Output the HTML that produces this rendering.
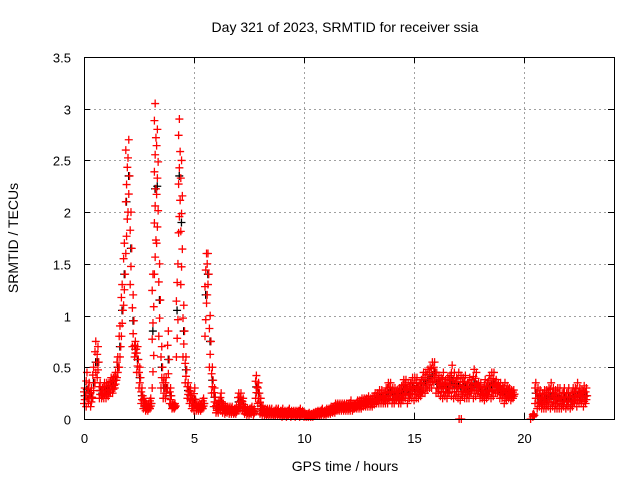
<!DOCTYPE html>
<html><head><meta charset="utf-8"><style>
body{margin:0;background:#fff}
svg{display:block;font-family:"Liberation Sans",sans-serif}
</style></head><body>
<svg id="chart" width="640" height="480" viewBox="0 0 640 480">
<rect width="640" height="480" fill="#fff"/>
<text x="345" y="32" font-size="14" text-anchor="middle">Day 321 of 2023, SRMTID for receiver ssia</text>
<text x="345" y="471" font-size="14" text-anchor="middle">GPS time / hours</text>
<text x="0" y="0" font-size="14" text-anchor="middle" transform="translate(18,238) rotate(-90)">SRMTID / TECUs</text>
<g id="grid"></g>
<g id="ticks"></g>
<g id="marks"></g>
<rect x="84.5" y="57.5" width="530" height="362" fill="none" stroke="#000" stroke-width="1"/>
</svg>
<script>
const xTicks=[0,5,10,15,20];
const yTicks=[0,0.5,1,1.5,2,2.5,3,3.5];
const yTickLabels=["0","0.5","1","1.5","2","2.5","3","3.5"];
const t0=0, dt=0.1;
const lo=[.15,.12,.15,.12,.2,.35,.4,.2,.2,.2,
.2,.22,.25,.25,.3,.4,.5,.8,1.1,1.6,
2.0,1.3,.7,.6,.45,.3,.15,.1,.08,.08,
.1,.3,1.4,1.7,.8,.3,.2,.2,.3,.15,
.1,.1,.6,1.8,1.3,.6,.35,.2,.15,.1,
.08,.08,.08,.08,.1,.8,1.2,.5,.25,.12,
.06,.06,.08,.06,.05,.06,.05,.05,.05,.05,
.08,.1,.08,.05,.04,.04,.05,.04,.2,.15,
.05,.04,.03,.03,.03,.03,.03,.03,.03,.03,
.02,.03,.02,.03,.02,.03,.02,.03,.02,.03,
.02,.02,.02,.02,.02,.03,.03,.03,.04,.04,
.04,.05,.05,.06,.06,.08,.08,.08,.08,.08,
.08,.08,.08,.1,.1,.1,.1,.12,.12,.12,
.12,.12,.14,.15,.15,.15,.15,.15,.15,.18,
.15,.15,.18,.15,.15,.18,.2,.15,.2,.2,
.18,.2,.2,.22,.25,.25,.28,.3,.3,.35,
.25,.25,.22,.2,.22,.2,.25,.22,.2,.22,
.2,.18,.22,.2,.2,.2,.25,.2,.22,.25,
.2,.2,.18,.2,.22,.2,.22,.25,.25,.2,
.2,.15,.18,.2,.18,.2,null,null,null,null,
null,null,null,null,.02,.15,.1,.12,.1,.1,
.1,.12,.1,.12,.1,.1,.1,.1,.12,.1,
.12,.1,.12,.15,.12,.15,.15,.12,.15];
const hi=[.3,.45,.35,.3,.5,.75,.7,.35,.3,.35,
.35,.35,.4,.4,.45,.6,.9,1.3,1.7,2.6,
2.7,2.0,1.2,.75,.7,.5,.3,.2,.15,.15,
.2,1.4,3.05,2.8,1.5,.7,.4,.4,.85,.3,
.15,.15,1.5,2.9,2.5,1.1,.6,.35,.3,.2,
.3,.15,.15,.15,.2,1.6,1.6,1.0,.5,.3,
.15,.18,.25,.15,.12,.12,.12,.12,.1,.12,
.25,.25,.2,.12,.1,.1,.12,.1,.42,.35,
.2,.12,.1,.1,.1,.1,.08,.1,.1,.08,
.1,.08,.08,.1,.08,.08,.08,.08,.1,.08,
.06,.05,.06,.05,.06,.07,.08,.08,.1,.08,
.1,.1,.12,.12,.15,.15,.15,.15,.15,.15,
.15,.18,.15,.15,.18,.18,.2,.2,.2,.22,
.2,.22,.25,.25,.28,.28,.25,.3,.35,.35,
.3,.3,.28,.3,.32,.38,.38,.35,.35,.4,
.4,.4,.35,.38,.45,.45,.48,.5,.55,.55,
.45,.42,.4,.45,.38,.4,.42,.52,.45,.4,
.45,.42,.4,.42,.35,.4,.38,.48,.45,.35,
.35,.3,.38,.35,.42,.45,.45,.38,.35,.35,
.32,.35,.32,.3,.28,.28,null,null,null,null,
null,null,null,null,.05,.35,.3,.28,.25,.28,
.28,.3,.35,.3,.28,.3,.3,.25,.3,.25,
.3,.25,.3,.3,.35,.3,.28,.32,.3];
const outT=[17.05,17.15,20.3];
const outV=[0,0,0];

const X0=84,X1=614,Y0=419,Y1=57,XMAX=24.09,YMAX=3.5;
const sx=v=>X0+v/XMAX*(X1-X0);
const sy=v=>Y0-v/YMAX*(Y0-Y1);
const NS="http://www.w3.org/2000/svg";
const grid=document.getElementById('grid'),ticks=document.getElementById('ticks'),marks=document.getElementById('marks');
function mk(tag,attrs,parent){const e=document.createElementNS(NS,tag);for(const k in attrs)e.setAttribute(k,attrs[k]);parent.appendChild(e);return e;}
xTicks.forEach(v=>{
  const x=Math.round(sx(v))+0.5;
  if(v>0){const g=mk('line',{x1:x,x2:x,y1:Y1,y2:Y0,stroke:'#a0a0a0','stroke-dasharray':'2,3'},grid);
  
  }
  mk('line',{x1:x,x2:x,y1:Y0,y2:Y0-6,stroke:'#000'},ticks);
  mk('line',{x1:x,x2:x,y1:Y1,y2:Y1+6,stroke:'#000'},ticks);
  const t=mk('text',{x:x,y:443,'font-size':13,'text-anchor':'middle'},ticks);
  t.textContent=v;
  
  
});
yTicks.forEach((v,i)=>{
  const y=Math.round(sy(v))+0.5;
  if(v>0&&v<YMAX){const g=mk('line',{x1:X0,x2:X1,y1:y,y2:y,stroke:'#a0a0a0','stroke-dasharray':'2,3'},grid);
  
  }
  mk('line',{x1:X0,x2:X0+6,y1:y,y2:y,stroke:'#000'},ticks);
  mk('line',{x1:X1,x2:X1-6,y1:y,y2:y,stroke:'#000'},ticks);
  const t=mk('text',{x:71,y:y+5,'font-size':13,'text-anchor':'end'},ticks);
  t.textContent=yTickLabels[i];
  
  
});
function plus(x,y,col){
  const p=mk('path',{d:`M${x-4},${y}h8M${x},${y-4}v8`,stroke:col,'stroke-width':1.3,fill:'none'},marks);
  
  
}
lo.forEach((l,i)=>{
  if(l===null||hi[i]===null)return;
  const t=t0+i*dt;
  plus(sx(t+0.03),sy((l+hi[i])/2),'#000');
});
lo.forEach((l,i)=>{
  if(l===null||hi[i]===null)return;
  const t=t0+i*dt;
  const n=Math.max(4,Math.ceil((hi[i]-l)/0.18));
  for(let k=0;k<=n;k++){const v=l+(hi[i]-l)*k/n;plus(sx(t+(k%3)*0.035),sy(v),'#f00');}
});
outT.forEach((t,i)=>plus(sx(t),sy(outV[i]),'#f00'));
</script>
</body></html>
